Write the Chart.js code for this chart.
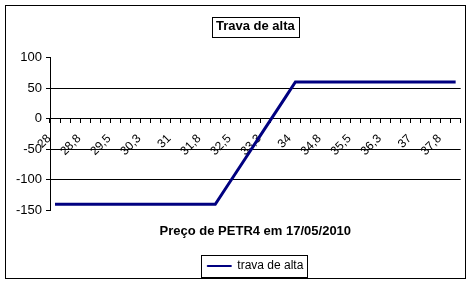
<!DOCTYPE html>
<html>
<head>
<meta charset="utf-8">
<script src="https://cdn.jsdelivr.net/npm/chart.js@4/dist/chart.umd.min.js"></script>
<style>
html,body{margin:0;padding:0;background:#fff;}
#wrap{width:475px;height:286px;position:relative;}
</style>
</head>
<body>
<div id="wrap"><canvas id="c" width="475" height="286"></canvas></div>
<script>
const chartTitle = "Trava de alta";
const xAxisTitle = "Preço de PETR4 em 17/05/2010";
const seriesName = "trava de alta";
const categories = [28, 28.25, 28.5, 28.75, 29, 29.25, 29.5, 29.75, 30, 30.25, 30.5, 30.75, 31, 31.25, 31.5, 31.75, 32, 32.25, 32.5, 32.75, 33, 33.25, 33.5, 33.75, 34, 34.25, 34.5, 34.75, 35, 35.25, 35.5, 35.75, 36, 36.25, 36.5, 36.75, 37, 37.25, 37.5, 37.75, 38];
const values = [-140, -140, -140, -140, -140, -140, -140, -140, -140, -140, -140, -140, -140, -140, -140, -140, -140, -115, -90, -65, -40, -15, 10, 35, 60, 60, 60, 60, 60, 60, 60, 60, 60, 60, 60, 60, 60, 60, 60, 60, 60];
const tickLabels = ["28", "28,8", "29,5", "30,3", "31", "31,8", "32,5", "33,3", "34", "34,8", "35,5", "36,3", "37", "37,8"];
const yTicks = [100, 50, 0, -50, -100, -150];
const gridValues = [50, 0, -50, -100];

const FONT = "Arial, 'Liberation Sans', sans-serif";

const framePlugin = {
  id: 'frame',
  afterDraw(chart) {
    const ctx = chart.ctx;
    ctx.save();
    ctx.strokeStyle = '#000';
    ctx.lineWidth = 1;
    // outer border
    ctx.strokeRect(5.5, 5.5, 460, 273);
    // title box
    const t = chart.titleBlock;
    if (t) {
      ctx.font = 'bold 13px ' + FONT;
      const w = ctx.measureText(chartTitle).width;
      const cx = t.left + t.width / 2;
      const cy = t.top + t.options.padding.top + 7.8;
      ctx.strokeRect(Math.round(cx - w / 2 - 4) + 0.5, Math.round(cy - 10) + 0.5, Math.round(w + 8), 20);
    }
    // legend box
    const lg = chart.legend;
    if (lg && lg.legendHitBoxes && lg.legendHitBoxes.length) {
      const hb = lg.legendHitBoxes[0];
      ctx.strokeRect(Math.round(hb.left - 6) + 0.5, Math.round(hb.top + hb.height / 2 - 11) + 0.5, Math.round(hb.width + 10), 22);
    }
    ctx.restore();
  }
};

new Chart(document.getElementById('c'), {
  type: 'line',
  data: {
    labels: categories,
    datasets: [{
      label: seriesName,
      data: values,
      borderColor: '#000080',
      backgroundColor: '#000080',
      borderWidth: 3,
      pointRadius: 0,
      tension: 0,
      fill: false
    }]
  },
  options: {
    responsive: false,
    animation: false,
    devicePixelRatio: 1,
    layout: { padding: { left: 10, right: 14, top: 10, bottom: 4 } },
    plugins: {
      tooltip: { enabled: false },
      title: {
        display: true,
        fullSize: false,
        text: chartTitle,
        color: '#000',
        font: { family: FONT, size: 13, weight: 'bold' },
        padding: { top: 9, bottom: 23 }
      },
      subtitle: {
        display: true,
        fullSize: false,
        position: 'bottom',
        weight: 500,
        text: xAxisTitle,
        color: '#000',
        font: { family: FONT, size: 13, weight: 'bold' },
        padding: { top: 13, bottom: 15 }
      },
      legend: {
        display: true,
        fullSize: false,
        position: 'bottom',
        labels: {
          color: '#000',
          font: { family: FONT, size: 12 },
          boxWidth: 24,
          boxHeight: 1,
          padding: 6,
          generateLabels(chart) {
            const items = Chart.defaults.plugins.legend.labels.generateLabels(chart);
            items.forEach(it => { it.lineWidth = 1; it.fillStyle = '#000080'; it.strokeStyle = '#000080'; });
            return items;
          }
        }
      }
    },
    scales: {
      x: {
        type: 'category',
        position: { y: 0 },
        offset: true,
        grid: {
          offset: true,
          drawOnChartArea: false,
          drawTicks: true,
          tickLength: 4,
          color: '#000',
          tickColor: '#000'
        },
        border: { display: true, color: '#000', width: 1 },
        ticks: {
          autoSkip: false,
          minRotation: 45,
          maxRotation: 45,
          padding: 9,
          labelOffset: -6,
          color: '#000',
          font: { family: FONT, size: 12 },
          callback(value, index) {
            return index % 3 === 0 ? tickLabels[index / 3] : '';
          }
        }
      },
      y: {
        min: -150,
        max: 100,
        afterBuildTicks(scale) {
          scale.ticks = yTicks.map(v => ({ value: v }));
        },
        afterFit(scale) { scale.width = 40; },
        grid: {
          drawTicks: true,
          tickLength: 4,
          color(ctx) {
            return gridValues.includes(ctx.tick && ctx.tick.value) ? '#000' : 'rgba(0,0,0,0)';
          },
          tickColor: '#000'
        },
        border: { display: true, color: '#000', width: 1 },
        ticks: {
          color: '#000',
          padding: 4,
          font: { family: FONT, size: 13 }
        }
      }
    }
  },
  plugins: [framePlugin]
});
</script>
</body>
</html>
